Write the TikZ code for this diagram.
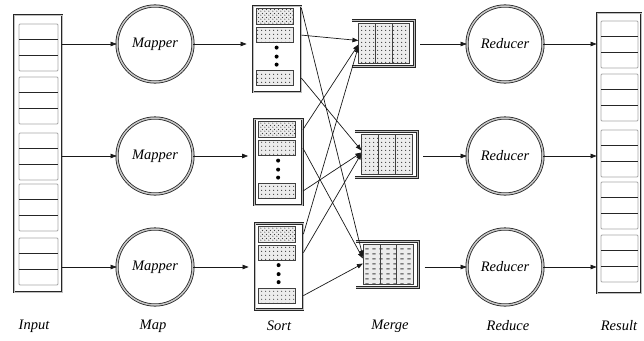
\documentclass[tikz,border=0pt]{standalone}
\usepackage{fontspec}
\setmainfont{Liberation Serif}
\usetikzlibrary{arrows.meta,patterns,calc}
\pgfdeclarepatternformonly{sparsedots}{\pgfqpoint{0pt}{0pt}}{\pgfqpoint{4pt}{4pt}}{\pgfqpoint{4pt}{4pt}}{\pgfpathcircle{\pgfqpoint{2pt}{2pt}}{0.7pt}\pgfusepath{fill}}
\pgfdeclarepatternformonly{densedots}{\pgfqpoint{0pt}{0pt}}{\pgfqpoint{4pt}{4pt}}{\pgfqpoint{4pt}{4pt}}{\pgfpathcircle{\pgfqpoint{1pt}{1pt}}{0.7pt}\pgfpathcircle{\pgfqpoint{3pt}{3pt}}{0.7pt}\pgfusepath{fill}}
\pgfdeclarepatternformonly{dashrows}{\pgfqpoint{0pt}{0pt}}{\pgfqpoint{7pt}{5pt}}{\pgfqpoint{7pt}{5pt}}{\pgfpathrectangle{\pgfqpoint{1.5pt}{2pt}}{\pgfqpoint{3.5pt}{1pt}}\pgfusepath{fill}}
\tikzset{
  frame/.style={draw=black!85, line width=0.8pt, double=gray!50, double distance=1pt},
  colbox/.style={frame, rectangle, inner sep=0pt},
  grp/.style={draw=gray!70, line width=0.8pt, rounded corners=1pt},
  sepline/.style={draw=black!85, line width=0.8pt},
  circ/.style={circle, minimum size=76pt, inner sep=0pt, draw=black!85, line width=0.8pt, double=gray!45, double distance=1.5pt, font=\fontsize{14.5}{16}\selectfont\itshape},
  lab/.style={font=\fontsize{14.5}{16}\selectfont\itshape, inner sep=0pt},
  arr/.style={-{Triangle[length=6pt,width=4.5pt]}, line width=0.7pt, draw=black!90},
  cellbase/.style={rectangle, inner sep=0pt, draw=black!75, line width=0.8pt, preaction={fill=gray!15}, pattern color=black!75},
  cellA/.style={cellbase, pattern=densedots},
  cellB/.style={cellbase, pattern=sparsedots},
  mcell/.style={cellbase, minimum width=16.7pt, minimum height=40pt},
  dotmark/.style={circle, fill=black, inner sep=0pt, minimum size=4pt}
}
\begin{document}
\begin{tikzpicture}[x=1pt,y=-1pt]
\useasboundingbox (0,0) rectangle (644,340);

% Input column
\node[colbox, minimum width=48pt, minimum height=277pt] (in) at (38,153.5) {};
\foreach \t in {24,77,133,184,238} {
  \draw[grp] (19,\t) rectangle (58,\t+47);
  \draw[sepline] (19,\t+15.7) -- (58,\t+15.7);
  \draw[sepline] (19,\t+31.3) -- (58,\t+31.3);
}

% Result column
\node[colbox, minimum width=44pt, minimum height=280pt] (res) at (619,153) {};
\foreach \t in {21,74,130,182,235} {
  \draw[grp] (601,\t) rectangle (638,\t+47);
  \draw[sepline] (601,\t+15.7) -- (638,\t+15.7);
  \draw[sepline] (601,\t+31.3) -- (638,\t+31.3);
}

% Mappers and reducers
\node[circ] (m1) at (155,44) {Mapper};
\node[circ] (m2) at (155,156) {Mapper};
\node[circ] (m3) at (155,267) {Mapper};
\node[circ] (r1) at (505,44) {Reducer};
\node[circ] (r2) at (505,156) {Reducer};
\node[circ] (r3) at (505,267) {Reducer};

% Sort boxes
\foreach \n/\x/\y in {1/277/49, 2/278.5/162, 3/279/266.5} {
  \node[colbox, minimum width=48pt, minimum height=86pt] (s\n) at (\x,\y) {};
  \node[cellA, minimum width=37pt, minimum height=16pt] (s\n a) at ($(s\n.north west)+(22.5,11)$) {};
  \node[cellB, minimum width=37pt, minimum height=15pt] (s\n b) at ($(s\n.north west)+(22.5,29.5)$) {};
  \node[cellB, minimum width=37pt, minimum height=15pt] (s\n c) at ($(s\n.north west)+(22.5,72.5)$) {};
  \node[dotmark] (s\n d1) at ($(s\n.north west)+(24,42)$) {};
  \node[dotmark] (s\n d2) at ($(s\n.north west)+(24,51)$) {};
  \node[dotmark] (s\n d3) at ($(s\n.north west)+(24,59)$) {};
}

% Merge boxes
\foreach \n/\x/\y/\pat in {1/383/43.5/sparsedots, 2/386/154.5/sparsedots, 3/387.5/264.5/dashrows} {
  \node[minimum width=62pt, minimum height=46pt, inner sep=0pt] (g\n) at (\x,\y) {};
  \draw[frame] (g\n.north west) -- (g\n.north east) -- (g\n.south east) -- (g\n.south west);
  \node[mcell, pattern=\pat] (g\n c1) at ($(g\n.west)+(15.35,0)$) {};
  \node[mcell, pattern=\pat] (g\n c2) at ($(g\n c1.center)+(16.7,0)$) {};
  \node[mcell, pattern=\pat] (g\n c3) at ($(g\n c2.center)+(16.7,0)$) {};
}

% Input -> Mapper
\draw[arr] (in.east |- m1.west) -- (m1.west);
\draw[arr] (in.east |- m2.west) -- (m2.west);
\draw[arr] (in.east |- m3.west) -- (m3.west);

% Mapper -> Sort
\draw[arr, shorten >=6pt] (m1.east) -- (s1.west |- m1.east);
\draw[arr, shorten >=6pt] (m2.east) -- (s2.west |- m2.east);
\draw[arr, shorten >=6pt] (m3.east) -- (s3.west |- m3.east);

% Sort -> Merge (shuffle)
\draw[arr] (s1.east |- s1a.north) -- ($(g3c1.west)+(0,-8)$);
\draw[arr] (s1.east |- s1b) -- ($(g1c1.west)+(0,-3)$);
\draw[arr] (s1.east |- s1c) -- ($(g2c1.west)+(0,-4)$);
\draw[arr] (s2.east |- s2a) -- ($(g1c1.west)+(0,1)$);
\draw[arr] (s2.east |- s2b) -- ($(g3c1.west)+(0,-6)$);
\draw[arr] (s2.east |- s2c) -- ($(g2c1.west)+(0,-2)$);
\draw[arr] (s3.east |- s3a) -- ($(g1c1.west)+(0,3)$);
\draw[arr] (s3.east |- s3b) -- ($(g2c1.west)+(0,-1)$);
\draw[arr] (s3.east |- s3c) -- ($(g3c1.west)+(0,-1)$);

% Merge -> Reducer
\draw[arr, shorten <=6pt] (g1.east |- r1.west) -- (r1.west);
\draw[arr, shorten <=6pt] (g2.east |- r2.west) -- (r2.west);
\draw[arr, shorten <=6pt] (g3.east |- r3.west) -- (r3.west);

% Reducer -> Result
\draw[arr] (r1.east) -- (res.west |- r1.east);
\draw[arr] (r2.east) -- (res.west |- r2.east);
\draw[arr] (r3.east) -- (res.west |- r3.east);

% Labels
\node[lab] (lin) at (34,326) {Input};
\node[lab] (lmap) at (153,326) {Map};
\node[lab] (lsort) at (279,326) {Sort};
\node[lab] (lmerge) at (390,326) {Merge};
\node[lab] (lred) at (508,326) {Reduce};
\node[lab] (lres) at (619,326) {Result};
\end{tikzpicture}
\end{document}
